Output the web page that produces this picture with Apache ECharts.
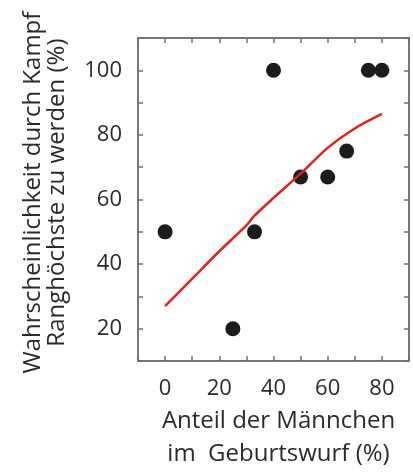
<!DOCTYPE html>
<html>
<head>
<meta charset="utf-8">
<script src="https://cdn.jsdelivr.net/npm/echarts@6/dist/echarts.min.js"></script>
<style>
html,body{margin:0;padding:0;background:#fff;}
#main{width:413px;height:476px;}
</style>
</head>
<body>
<div id="main"></div>
<script>
// Punkte: Anteil der Männchen (%) / Wahrscheinlichkeit (%)
var maleShare = [0, 25, 33, 40, 50, 60, 67, 75, 80];
var rankProb = [50, 20, 50, 100, 67, 67, 75, 100, 100];

// rote Kurve
var curveX = [0, 10, 20, 30, 33, 40, 50, 60, 70, 80];
var curveY = [27, 35.5, 44, 52, 55, 60.5, 68, 76, 82, 86.5];

var xTicks = [0, 20, 40, 60, 80];
var yTicks = [20, 40, 60, 80, 100];

var points = maleShare.map(function (v, i) { return [v, rankProb[i]]; });
var curve = curveX.map(function (v, i) { return [v, curveY[i]]; });

var font = 'Open Sans';
var axisColor = '#707070';
var textColor = '#2a2a2a';

var chart = echarts.init(document.getElementById('main'));
option = {
	animation: false,
	grid: {
		left: 138,
		right: 4,
		top: 38,
		bottom: 112,
		show: true,
		borderColor: axisColor,
		borderWidth: 1.5
	},
	xAxis: [
		{
			type: 'value',
			min: -10,
			max: 90,
			interval: 10,
			name: 'Anteil der Männchen\nim  Geburtswurf (%)',
			nameLocation: 'middle',
			nameGap: 31,
			nameTextStyle: {
				color: textColor,
				fontFamily: font,
				fontSize: 24,
				lineHeight: 33,
				verticalAlign: 'top',
				padding: [0, 0, 0, 10]
			},
			axisLine: { show: true, onZero: false, lineStyle: { color: axisColor, width: 1.5 } },
			axisTick: { show: true, inside: true, length: 5, lineStyle: { color: axisColor, width: 1.5 } },
			splitLine: { show: false },
			axisLabel: {
				margin: 17,
				color: textColor,
				fontFamily: font,
				fontSize: 22,
				formatter: function (v) { return xTicks.indexOf(v) >= 0 ? String(v) : ''; }
			}
		},
		{
			type: 'value',
			position: 'top',
			min: -10,
			max: 90,
			interval: 10,
			axisLine: { show: true, onZero: false, lineStyle: { color: axisColor, width: 1.5 } },
			axisTick: { show: true, inside: true, length: 5, lineStyle: { color: axisColor, width: 1.5 } },
			splitLine: { show: false },
			axisLabel: { show: false }
		}
	],
	yAxis: [
		{
			type: 'value',
			min: 10,
			max: 110,
			interval: 10,
			name: 'Wahrscheinlichkeit durch Kampf\nRanghöchste zu werden (%)',
			nameLocation: 'middle',
			nameGap: 69,
			nameTextStyle: {
				color: textColor,
				fontFamily: font,
				fontSize: 24,
				lineHeight: 24,
				padding: [0, 0, 0, 14]
			},
			axisLine: { show: true, onZero: false, lineStyle: { color: axisColor, width: 1.5 } },
			axisTick: { show: true, inside: true, length: 5, lineStyle: { color: axisColor, width: 1.5 } },
			splitLine: { show: false },
			axisLabel: {
				margin: 16,
				color: textColor,
				fontFamily: font,
				fontSize: 22,
				formatter: function (v) { return yTicks.indexOf(v) >= 0 ? String(v) : ''; }
			}
		},
		{
			type: 'value',
			position: 'right',
			min: 10,
			max: 110,
			interval: 10,
			axisLine: { show: true, onZero: false, lineStyle: { color: axisColor, width: 1.5 } },
			axisTick: { show: true, inside: true, length: 5, lineStyle: { color: axisColor, width: 1.5 } },
			splitLine: { show: false },
			axisLabel: { show: false }
		}
	],
	series: [
		{
			name: 'Kurve',
			type: 'line',
			data: curve,
			smooth: 0.3,
			symbol: 'none',
			lineStyle: { color: '#e3221c', width: 2.5 },
			z: 3
		},
		{
			name: 'Würfe',
			type: 'scatter',
			data: points,
			symbolSize: 15,
			itemStyle: { color: '#1c1c1c', opacity: 1 },
			z: 2
		}
	]
};
chart.setOption(option);
</script>
</body>
</html>
